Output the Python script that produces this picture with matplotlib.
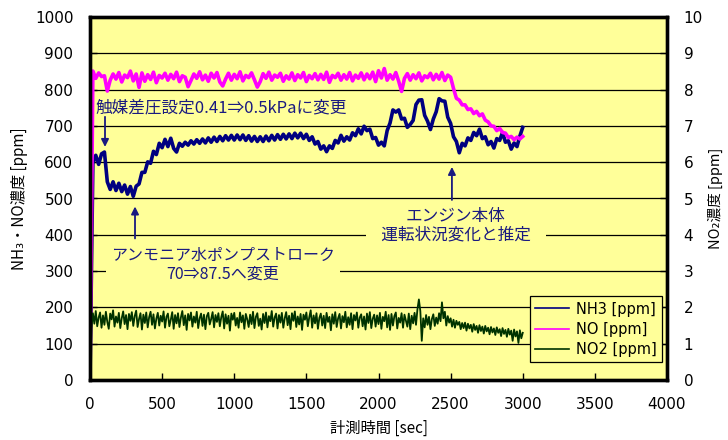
import matplotlib
matplotlib.use("Agg")
import matplotlib.pyplot as plt
from matplotlib.lines import Line2D

plt.rcParams['font.family'] = ['Noto Sans CJK JP', 'DejaVu Sans']

# sampling grids [sec]
time_sec = list(range(0, 3001, 20))
time_no2_sec = list(range(0, 3001, 10))

nh3_ppm = [
    0, 598, 619, 594, 623, 628, 546, 525, 546, 522,
    542, 519, 537, 512, 533, 506, 534, 540, 572, 572,
    601, 597, 630, 621, 652, 640, 663, 643, 666, 638,
    628, 652, 644, 655, 647, 659, 650, 662, 652, 664,
    653, 667, 655, 669, 657, 671, 659, 673, 661, 674,
    661, 675, 662, 675, 660, 673, 658, 671, 657, 670,
    657, 672, 659, 674, 661, 676, 663, 677, 664, 678,
    665, 680, 667, 680, 665, 677, 660, 670, 650, 657,
    636, 645, 629, 645, 638, 660, 653, 674, 658, 670,
    661, 681, 673, 692, 678, 699, 687, 691, 665, 668,
    647, 655, 645, 687, 708, 744, 738, 744, 719, 721,
    696, 704, 715, 759, 771, 772, 729, 713, 690, 719,
    739, 775, 769, 768, 724, 707, 670, 657, 626, 652,
    645, 667, 660, 682, 673, 691, 665, 670, 648, 657,
    639, 665, 660, 682, 655, 659, 636, 653, 643, 672,
    696,
]

no_ppm = [
    0, 851, 831, 846, 836, 838, 796, 826, 843, 829,
    847, 821, 840, 833, 851, 824, 843, 806, 846, 823,
    841, 828, 848, 819, 839, 832, 845, 826, 842, 830,
    848, 822, 838, 834, 808, 825, 843, 831, 849, 827,
    840, 823, 845, 832, 847, 821, 810, 829, 845, 826,
    842, 830, 849, 824, 839, 833, 846, 827, 807, 822,
    844, 831, 848, 826, 840, 834, 845, 823, 838, 829,
    846, 825, 841, 832, 847, 822, 839, 830, 844, 827,
    842, 828, 848, 820, 839, 833, 845, 826, 841, 829,
    847, 824, 840, 831, 846, 827, 843, 830, 848, 822,
    852, 832, 858, 826, 841, 829, 847, 823, 795, 831,
    844, 826, 841, 830, 846, 824, 838, 833, 845, 827,
    842, 829, 847, 825, 840, 834, 803, 776, 771, 758,
    758, 745, 747, 734, 740, 728, 733, 716, 711, 700,
    699, 687, 693, 682, 680, 668, 671, 662, 669, 664,
    671,
]

no2_ppm = [
    0, 1.42, 1.84, 1.55, 1.90, 1.48, 1.72, 1.86, 1.44, 1.78,
    1.52, 1.88, 1.60, 1.41, 1.83, 1.67, 1.92, 1.47, 1.75, 1.58,
    1.85, 1.43, 1.70, 1.89, 1.54, 1.79, 1.40, 1.82, 1.63, 1.87,
    1.49, 1.76, 1.91, 1.46, 1.68, 1.84, 1.39, 1.80, 1.57, 1.86,
    1.45, 1.73, 1.88, 1.52, 1.81, 1.42, 1.69, 1.85, 1.50, 1.77,
    1.61, 1.89, 1.44, 1.74, 1.83, 1.48, 1.66, 1.87, 1.41, 1.79,
    1.56, 1.84, 1.46, 1.72, 1.90, 1.51, 1.78, 1.38, 1.82, 1.64,
    1.86, 1.47, 1.75, 1.58, 1.88, 1.43, 1.70, 1.83, 1.49, 1.80,
    1.40, 1.76, 1.85, 1.53, 1.68, 1.87, 1.45, 1.79, 1.60, 1.84,
    1.48, 1.73, 1.89, 1.42, 1.81, 1.55, 1.77, 1.36, 1.83, 1.66,
    1.85, 1.50, 1.71, 1.44, 1.86, 1.59, 1.78, 1.41, 1.82, 1.67,
    1.46, 1.80, 1.54, 1.88, 1.43, 1.74, 1.84, 1.49, 1.69, 1.39,
    1.82, 1.57, 1.86, 1.45, 1.76, 1.62, 1.90, 1.47, 1.72, 1.83,
    1.42, 1.79, 1.58, 1.85, 1.44, 1.70, 1.87, 1.51, 1.77, 1.40,
    1.84, 1.63, 1.89, 1.46, 1.75, 1.53, 1.82, 1.38, 1.80, 1.66,
    1.86, 1.48, 1.73, 1.92, 1.44, 1.78, 1.56, 1.84, 1.41, 1.71,
    1.83, 1.50, 1.77, 1.43, 1.85, 1.60, 1.74, 1.37, 1.81, 1.55,
    1.87, 1.46, 1.70, 1.82, 1.42, 1.76, 1.59, 1.88, 1.45, 1.73,
    1.52, 1.84, 1.40, 1.79, 1.64, 1.86, 1.44, 1.72, 1.81, 1.48,
    1.75, 1.39, 1.83, 1.57, 1.87, 1.43, 1.69, 1.80, 1.47, 1.78,
    1.54, 1.85, 1.41, 1.74, 1.62, 1.88, 1.45, 1.79, 1.38, 1.82,
    1.50, 1.76, 1.86, 1.42, 1.71, 1.58, 1.84, 1.44, 1.80, 1.63,
    1.47, 1.83, 1.40, 1.77, 1.56, 1.85, 1.52, 1.95, 2.22, 1.90,
    1.08, 1.70, 1.45, 1.79, 1.52, 1.74, 1.40, 1.68, 1.81, 1.49,
    1.72, 1.55, 1.84, 1.62, 2.14, 1.70, 1.88, 1.50, 1.76, 1.58,
    1.70, 1.47, 1.66, 1.44, 1.63, 1.52, 1.60, 1.40, 1.57, 1.43,
    1.58, 1.36, 1.55, 1.42, 1.52, 1.33, 1.54, 1.38, 1.49, 1.30,
    1.51, 1.35, 1.47, 1.28, 1.49, 1.34, 1.44, 1.26, 1.46, 1.31,
    1.42, 1.24, 1.45, 1.30, 1.40, 1.21, 1.43, 1.27, 1.38, 1.19,
    1.41, 1.25, 1.36, 1.08, 1.39, 1.20, 1.34, 1.02, 1.37, 1.15,
    1.30,
]

x_ticks = list(range(0, 4001, 500))
y_ticks = list(range(0, 1001, 100))
y2_ticks = list(range(0, 11))
series_labels = ['NH3 [ppm]', 'NO [ppm]', 'NO2 [ppm]']

C_NH3 = '#000080'
C_NO = '#FF00FF'
C_NO2 = '#003300'
C_TXT = '#1a1a80'
BG = '#FFFF99'

fig = plt.figure(figsize=(7.28, 4.4), dpi=100)
ax = fig.add_axes([90 / 728, 60 / 440, 577 / 728, 363 / 440])
ax.set_facecolor(BG)
ax2 = ax.twinx()

ax.plot(time_sec, nh3_ppm, color=C_NH3, lw=2.6, zorder=2)
ax.plot(time_sec, no_ppm, color=C_NO, lw=2.6, zorder=2)
ax2.plot(time_no2_sec, no2_ppm, color=C_NO2, lw=1.3, zorder=2)

ax.set_xlim(0, 4000)
ax.set_ylim(0, 1000)
ax2.set_ylim(0, 10)
ax.set_xticks(x_ticks)
ax.set_yticks(y_ticks)
ax2.set_yticks(y2_ticks)

tick_font = dict(family='DejaVu Sans', size=11)
ax.set_xticklabels([str(v) for v in x_ticks], fontdict=tick_font)
ax.set_yticklabels([str(v) for v in y_ticks], fontdict=tick_font)
ax2.set_yticklabels([str(v) for v in y2_ticks], fontdict=tick_font)

ax.tick_params(axis='both', direction='in', length=5, width=1, pad=12, colors='black')
ax2.tick_params(axis='y', direction='in', length=5, width=1, pad=12)

ax.grid(axis='y', color='black', lw=0.9)
ax.set_axisbelow(True)

for a in (ax, ax2):
    for s in a.spines.values():
        s.set_linewidth(2.4)
        s.set_color('black')

ax.set_xlabel('計測時間 [sec]', fontsize=11, labelpad=6)
ax.set_ylabel('NH₃・NO濃度 [ppm]', fontsize=11)
ax.yaxis.set_label_coords(-0.108, 0.5)
ax2.set_ylabel('NO₂濃度 [ppm]', fontsize=10.5)
ax2.yaxis.set_label_coords(1.070, 0.5)

# annotations
arrow_kw = dict(arrowstyle='-|>', color=C_TXT, lw=1.3, mutation_scale=11,
                shrinkA=0, shrinkB=0)

ax.text(35, 750, '触媒差圧設定0.41⇒0.5kPaに変更', fontsize=12, color=C_TXT,
        ha='left', va='center', zorder=5)
ax.annotate('', xy=(104, 642), xytext=(104, 725), arrowprops=arrow_kw, zorder=5)

ax.text(922, 318, 'アンモニア水ポンプストローク\n70⇒87.5へ変更', fontsize=11.5,
        color=C_TXT, ha='center', va='center', multialignment='center',
        linespacing=1.15, zorder=5,
        bbox=dict(boxstyle='square,pad=0.3', facecolor=BG, edgecolor='none'))
ax.annotate('', xy=(312, 478), xytext=(312, 390), arrowprops=arrow_kw, zorder=5)

ax.text(2536, 425, 'エンジン本体\n   運転状況変化と推定   ', fontsize=12,
        color=C_TXT, ha='center', va='center', multialignment='center',
        linespacing=1.1, zorder=5,
        bbox=dict(boxstyle='square,pad=0.25', facecolor=BG, edgecolor='none'))
ax.annotate('', xy=(2509, 587), xytext=(2509, 496), arrowprops=arrow_kw, zorder=5)

handles = [Line2D([], [], color=C_NH3, lw=1.2),
           Line2D([], [], color=C_NO, lw=1.2),
           Line2D([], [], color=C_NO2, lw=1.2)]
leg = ax2.legend(handles, series_labels, loc='lower right',
                 bbox_to_anchor=(0.991, 0.05), borderaxespad=0,
                 fancybox=False, framealpha=1, facecolor=BG,
                 edgecolor='black', handlelength=2.3,
                 handletextpad=0.5, labelspacing=0.35, borderpad=0.35,
                 prop={'family': 'DejaVu Sans', 'size': 10.5})
leg.get_frame().set_linewidth(0.9)

fig.savefig('out.png', dpi=100, facecolor='white')
